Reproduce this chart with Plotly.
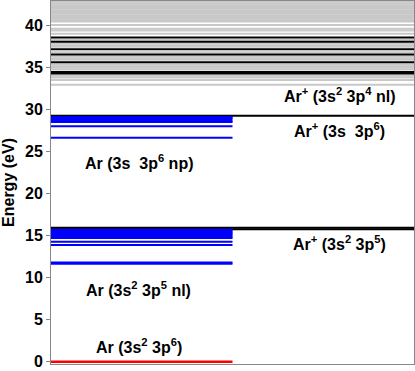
import plotly.graph_objects as go

# Neutral Ar levels (eV), drawn on the left half
ar_ground = [0.0]
ar_blue = [11.65, 11.8, 13.88, 14.27,
           14.7, 14.85, 15.0, 15.15, 15.3, 15.45, 15.6, 15.7,
           26.65, 27.99,
           28.5, 28.62, 28.85, 28.98, 29.1]

# Ar+ levels, drawn across the full width
ion_limits = [15.76, 15.94, 29.24]
ion_black = [34.27, 34.45, 35.62, 36.55, 37.15, 38.05, 38.55]
ion_gray = [32.95, 33.5, 33.8, 34.0, 34.75, 34.95, 35.15, 35.35,
            35.9, 36.1, 36.3, 36.8, 37.45, 37.65, 37.85, 38.3,
            39.0, 39.4, 39.6, 40.05, 40.45, 40.6, 40.8, 41.0, 41.2,
            41.4, 41.6, 41.8, 42.0, 42.2, 42.4, 42.6, 42.8, 42.95]

labels = [
    ("<b>Ar<sup>+</sup> (3s<sup>2</sup> 3p<sup>4</sup> nl)</b>", 0.796, 31.7),
    ("<b>Ar<sup>+</sup> (3s&nbsp; 3p<sup>6</sup>)</b>", 0.796, 27.5),
    ("<b>Ar (3s&nbsp; 3p<sup>6</sup> np)</b>", 0.242, 23.7),
    ("<b>Ar<sup>+</sup> (3s<sup>2</sup> 3p<sup>5</sup>)</b>", 0.796, 14.1),
    ("<b>Ar (3s<sup>2</sup> 3p<sup>5</sup> nl)</b>", 0.242, 8.6),
    ("<b>Ar (3s<sup>2</sup> 3p<sup>6</sup>)</b>", 0.242, 1.85),
]


def level_trace(levels, x0, x1, color, width):
    xs, ys = [], []
    for e in levels:
        xs += [x0, x1, None]
        ys += [e, e, None]
    return go.Scatter(x=xs, y=ys, mode="lines",
                      line=dict(color=color, width=width),
                      hoverinfo="skip", showlegend=False)


fig = go.Figure()
fig.add_trace(level_trace(ion_gray, 0, 1, "#c8c8c8", 2))
fig.add_trace(level_trace(ion_black, 0, 1, "#000000", 2))
fig.add_trace(level_trace(ion_limits, 0, 1, "#000000", 2))
fig.add_trace(level_trace(ar_blue, 0, 0.5, "#0000ff", 2))
fig.add_trace(level_trace(ar_ground, 0, 0.5, "#ff0000", 2.5))

for text, x, y in labels:
    fig.add_annotation(text=text, x=x, y=y, xref="paper", yref="y",
                       xanchor="center", yanchor="middle",
                       showarrow=False, font=dict(size=16, color="black"))

fig.update_layout(
    width=415, height=371,
    margin=dict(l=51, r=1, t=1, b=7),
    paper_bgcolor="white",
    plot_bgcolor="white",
    font=dict(family="Liberation Sans, Arial, sans-serif", color="black"),
    xaxis=dict(range=[0, 1], showticklabels=False, ticks="", showgrid=False,
               zeroline=False, showline=True, mirror=True,
               linecolor="#888888", linewidth=1),
    yaxis=dict(range=[-0.27, 42.9], tickvals=[0, 5, 10, 15, 20, 25, 30, 35, 40],
               ticks="outside", ticklen=4, tickcolor="#888888",
               tickfont=dict(size=16, weight="bold"),
               title=dict(text="<b>Energy (eV)</b>", font=dict(size=16), standoff=8),
               showgrid=False, zeroline=False, showline=True, mirror=True,
               linecolor="#888888", linewidth=1),
)

# page body has a default 8px margin; drop it so the figure sits at the corner
fig.write_html("out.html", config={"displayModeBar": False},
               post_script="document.body.style.margin='0';")
